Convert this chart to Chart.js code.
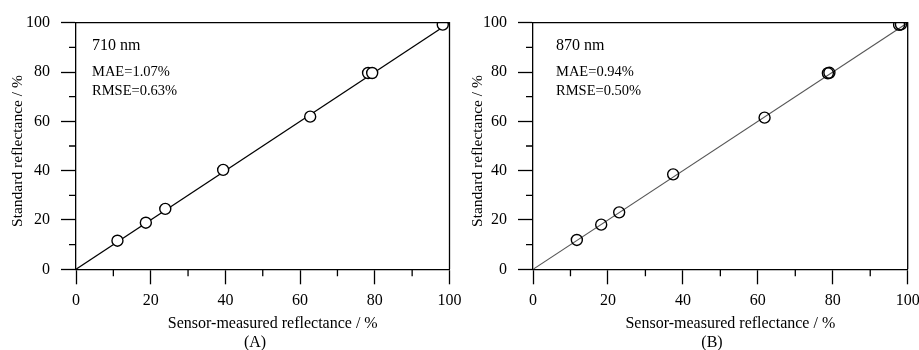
<!DOCTYPE html>
<html>
<head>
<meta charset="utf-8">
<script src="https://cdn.jsdelivr.net/npm/chart.js@4"></script>
<style>
  body { margin: 0; background: #fff; }
  .panel { position: absolute; top: 0; }
</style>
</head>
<body>
<canvas id="chartA" class="panel" width="475" height="350" style="left:0"></canvas>
<canvas id="chartB" class="panel" width="459" height="350" style="left:460px"></canvas>
<script>
// 710 nm band: sensor-measured vs standard reflectance (%)
const sensor710 = [11.1, 18.7, 23.9, 39.4, 62.7, 78.2, 79.3, 98.2];
const standard710 = [11.6, 18.9, 24.5, 40.3, 61.9, 79.6, 79.6, 99.2];

// 870 nm band
const sensor870 = [11.7, 18.2, 23.0, 37.4, 61.8, 78.7, 79.1, 97.7, 98.2];
const standard870 = [11.9, 18.1, 23.1, 38.5, 61.5, 79.5, 79.7, 99.1, 99.3];

// 1:1 line
const lineX = [0, 100];
const lineY = [0, 100];

const majorTicks = [0, 20, 40, 60, 80, 100];
const minorTicks = [10, 30, 50, 70, 90];

const SERIF = '"Liberation Serif", "Times New Roman", serif';
Chart.defaults.font.family = SERIF;
Chart.defaults.color = '#000';

const toPoints = (xs, ys) => xs.map((v, i) => ({ x: v, y: ys[i] }));

// frame, minor ticks, axis titles and text annotations
function panelDecor(cfg) {
  return {
    id: 'panelDecor',
    afterDraw(chart) {
      const { ctx, chartArea: a, scales: { x, y } } = chart;
      ctx.save();
      ctx.strokeStyle = '#000';
      ctx.lineWidth = 1.3;
      ctx.beginPath();
      ctx.moveTo(a.left, a.top);
      ctx.lineTo(a.right, a.top);
      ctx.lineTo(a.right, a.bottom);
      minorTicks.forEach(v => {
        const px = x.getPixelForValue(v);
        const py = y.getPixelForValue(v);
        ctx.moveTo(px, a.bottom);
        ctx.lineTo(px, a.bottom + 7);
        ctx.moveTo(a.left, py);
        ctx.lineTo(a.left - 7, py);
      });
      ctx.stroke();

      ctx.fillStyle = '#000';
      ctx.textAlign = 'left';
      ctx.textBaseline = 'alphabetic';
      ctx.font = '16px ' + SERIF;
      ctx.fillText(cfg.band, a.left + cfg.textDx, a.top + 27);
      ctx.font = '14.5px ' + SERIF;
      ctx.fillText(cfg.mae, a.left + cfg.textDx, a.top + 53);
      ctx.fillText(cfg.rmse, a.left + cfg.textDx, a.top + 72.5);

      ctx.textAlign = 'center';
      ctx.textBaseline = 'middle';
      ctx.font = '16px ' + SERIF;
      ctx.fillText('Sensor-measured reflectance / %', (a.left + a.right) / 2 + 10, 324);
      ctx.fillText(cfg.tag, a.left + 179, 343);

      ctx.translate(18, 151);
      ctx.rotate(-Math.PI / 2);
      ctx.font = '15.5px ' + SERIF;
      ctx.fillText('Standard reflectance / %', 0, 0);
      ctx.restore();
    }
  };
}

function axis(extra) {
  return {
    type: 'linear',
    min: 0,
    max: 100,
    afterBuildTicks: s => { s.ticks = majorTicks.map(v => ({ value: v })); },
    border: { display: true, color: '#000', width: 1.3 },
    grid: { drawOnChartArea: false, drawTicks: true, tickLength: 15, tickColor: '#000', tickWidth: 1.3 },
    title: { display: false },
    ...extra
  };
}

function makePanel(id, cfg) {
  new Chart(document.getElementById(id), {
    type: 'scatter',
    data: {
      datasets: [
        {
          data: toPoints(cfg.xs, cfg.ys),
          pointRadius: 5.5,
          pointBorderWidth: 1.4,
          pointBorderColor: '#000',
          pointBackgroundColor: cfg.fill,
          pointHoverRadius: 5.5,
          clip: 0
        },
        {
          data: toPoints(lineX, lineY),
          showLine: true,
          borderColor: cfg.lineColor,
          borderWidth: cfg.lineWidth,
          pointRadius: 0,
          clip: 0
        }
      ]
    },
    options: {
      responsive: false,
      animation: false,
      devicePixelRatio: 1,
      layout: { padding: { top: 22.7, right: cfg.padRight, left: 0, bottom: 0 } },
      plugins: { legend: { display: false }, tooltip: { enabled: false } },
      scales: {
        x: axis({
          position: 'bottom',
          ticks: { padding: 7, maxRotation: 0, font: { size: 16 } },
          afterFit: s => { s.height = 80.7; s.paddingLeft = 0; s.paddingRight = 0; }
        }),
        y: axis({
          position: 'left',
          ticks: { padding: 11, font: { size: 16 } },
          afterFit: s => { s.width = cfg.yWidth; s.paddingTop = 0; s.paddingBottom = 0; }
        })
      }
    },
    plugins: [panelDecor(cfg)]
  });
}

makePanel('chartA', {
  xs: sensor710, ys: standard710,
  fill: '#fff', lineColor: '#000', lineWidth: 1.3,
  yWidth: 76, padRight: 25.5,
  band: '710 nm', mae: 'MAE=1.07%', rmse: 'RMSE=0.63%', tag: '(A)', textDx: 16
});

makePanel('chartB', {
  xs: sensor870, ys: standard870,
  fill: 'rgba(0,0,0,0)', lineColor: '#555', lineWidth: 1.1,
  yWidth: 73, padRight: 11.3,
  band: '870 nm', mae: 'MAE=0.94%', rmse: 'RMSE=0.50%', tag: '(B)', textDx: 23
});
</script>
</body>
</html>
